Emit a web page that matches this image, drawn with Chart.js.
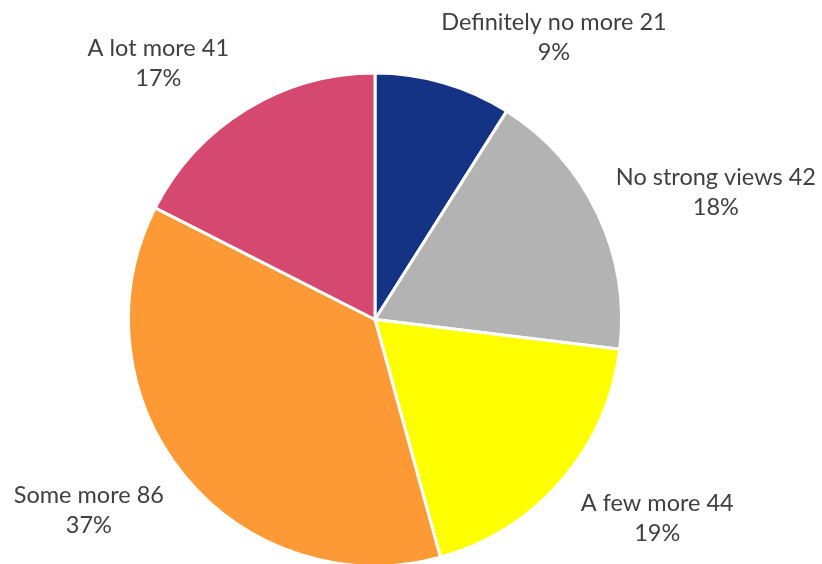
<!DOCTYPE html>
<html>
<head>
<meta charset="utf-8">
<script src="https://cdn.jsdelivr.net/npm/chart.js@4"></script>
<style>
  html, body { margin: 0; padding: 0; background: #fff; overflow: hidden; }
  #wrap { position: relative; width: 822px; height: 568px; }
</style>
</head>
<body>
<div id="wrap"><canvas id="chart-canvas"></canvas></div>
<script>
    // Survey answers, clockwise from 12 o'clock
    const categories = ['Definitely no more', 'No strong views', 'A few more', 'Some more', 'A lot more'];
    const counts = [21, 42, 44, 86, 41];
    // Percentages as printed (rounded so they add up to 100)
    const percents = [9, 18, 19, 37, 17];
    const sliceColors = ['#143384', '#b3b3b3', '#ffff00', '#fe9a35', '#d5486f'];

    // Label block centres, in units of the pie radius from its centre
    const labelOffsets = [
        [0.726, -1.145],
        [1.383, -0.516],
        [1.145, 0.806],
        [-1.161, 0.774],
        [-0.879, -1.040]
    ];

    // Draws "Name count" and the percentage under it, next to each slice
    const outsideLabels = {
        id: 'outsideLabels',
        afterDraw(chart) {
            const ctx = chart.ctx;
            const arc = chart.getDatasetMeta(0).data[0];
            const cx = arc.x, cy = arc.y, r = arc.outerRadius;
            ctx.save();
            ctx.fillStyle = '#404040';
            ctx.font = '23.5px Lato';
            ctx.textAlign = 'center';
            ctx.textBaseline = 'middle';
            categories.forEach((name, i) => {
                const x = cx + labelOffsets[i][0] * r;
                const y = cy + labelOffsets[i][1] * r;
                ctx.fillText(name + ' ' + counts[i], x, y - 15);
                ctx.fillText(percents[i] + '%', x, y + 15);
            });
            ctx.restore();
        }
    };

    const chartCanvas = document.getElementById('chart-canvas');
    window.resultChart = new Chart(chartCanvas, {
        type: 'pie',
        data: {
            labels: categories,
            datasets: [{
                data: counts,
                backgroundColor: sliceColors,
                borderColor: '#ffffff',
                borderWidth: 3,
                hoverOffset: 0
            }]
        },
        options: {
            responsive: true,
            maintainAspectRatio: false,
            animation: false,
            layout: {
                padding: { left: 127, right: 199, top: 71, bottom: 0 }
            },
            plugins: {
                legend: { display: false },
                tooltip: { enabled: false }
            }
        },
        plugins: [outsideLabels]
    });
</script>
</body>
</html>
